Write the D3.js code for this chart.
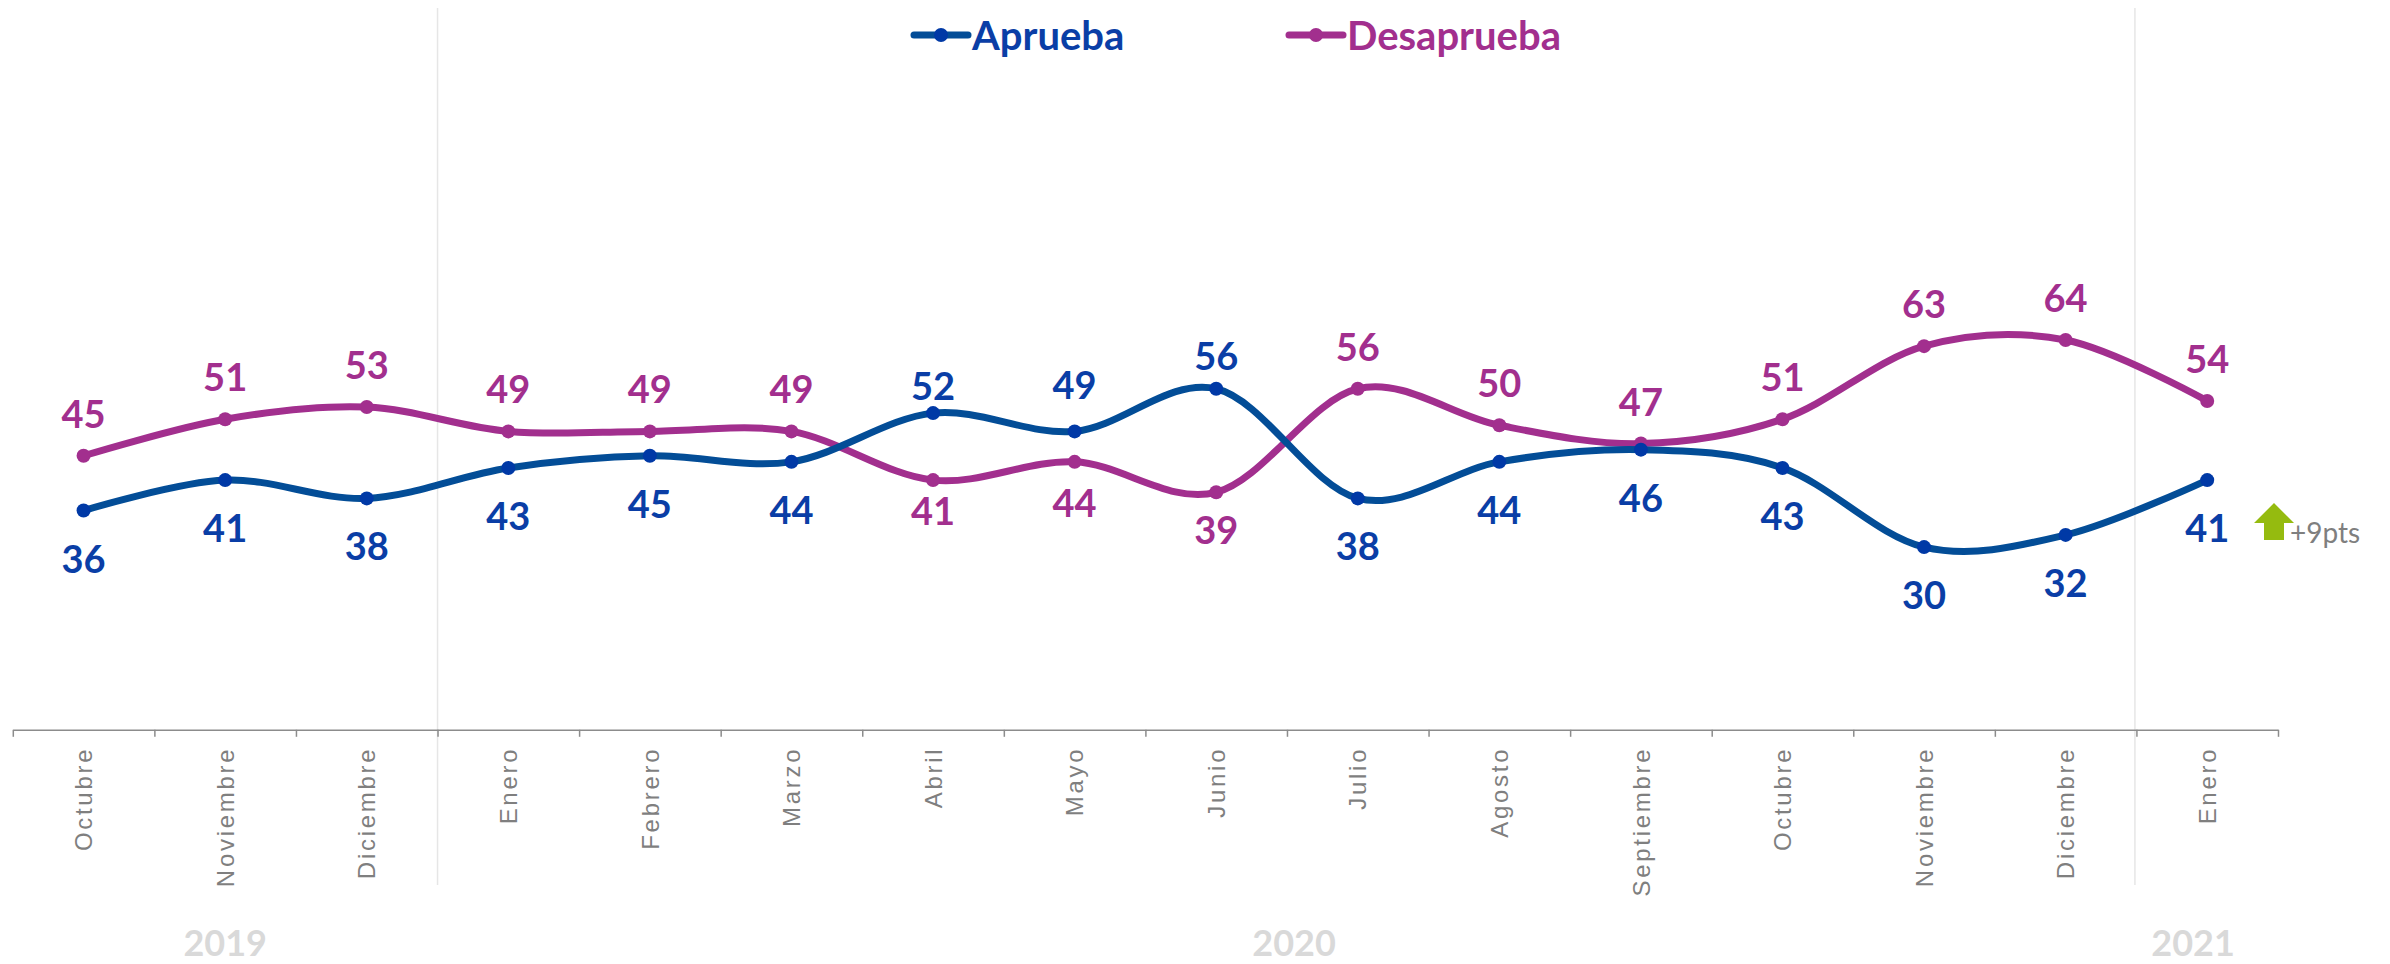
<!DOCTYPE html>
<html>
<head>
	<title>Aprueba / Desaprueba</title>
	<script type="text/javascript" src="https://d3js.org/d3.v7.min.js"></script>
	<style type="text/css">
		body { margin: 0; background: white; }
		svg { display: block; font-family: Lato, sans-serif; }
		.axis path, .axis line { fill: none; stroke: #8c8c8c; stroke-width: 1.5; }
		.months text { font-size: 24px; fill: #7f7f7f; letter-spacing: 2.7px; }
		.months path, .months line { display: none; }
		.value { font-size: 38px; font-weight: bold; text-anchor: middle; dominant-baseline: central; }
		.legend { font-size: 40px; font-weight: bold; dominant-baseline: central; }
		.year { font-size: 36px; font-weight: bold; fill: #d9d9d9; text-anchor: middle; dominant-baseline: central; }
	</style>
</head>
<body>
	<script type="text/javascript">
		var months = ["Octubre","Noviembre","Diciembre","Enero","Febrero","Marzo","Abril","Mayo","Junio","Julio","Agosto","Septiembre","Octubre","Noviembre","Diciembre","Enero"];
		var aprueba = [36,41,38,43,45,44,52,49,56,38,44,46,43,30,32,41];
		var desaprueba = [45,51,53,49,49,49,41,44,39,56,50,47,51,63,64,54];
		var years = [["2019",1],["2020",8.55],["2021",14.9]];
		var yearLines = [3,15];

		// labels that do not sit at the default distance from the line
		var aprOffset = {6:-28, 8:-34};
		var desOffset = {6:30, 7:40, 8:37};

		var width = 2390, height = 964;
		var blueLine = "#034d97", blueDot = "#0039a6", blueText = "#0a3ea6";
		var pinkLine = "#a22f8e", pinkDot = "#a22f8e", pinkText = "#a22f8e";

		var svg = d3.select("body").append("svg")
			.attr("width", width)
			.attr("height", height);

		var xEdge = d3.scaleLinear().domain([0, months.length]).range([12.8, 2278]);
		var xBand = d3.scaleBand().domain(d3.range(months.length)).range([12.8, 2278]);
		var yScale = d3.scaleLinear().domain([0, 100]).range([729.8, 120.8]);

		function xMid(i) { return xBand(i) + xBand.bandwidth() / 2; }

		// year separators
		svg.selectAll(".sep").data(yearLines).enter().append("line")
			.attr("class", "sep")
			.attr("x1", function(d){ return xEdge(d) - (d == 15 ? 1.5 : 0); })
			.attr("x2", function(d){ return xEdge(d) - (d == 15 ? 1.5 : 0); })
			.attr("y1", 8)
			.attr("y2", 885)
			.style("stroke", "#e6e6e6")
			.style("stroke-width", 1.5);

		svg.append("g")
			.attr("class", "axis")
			.attr("transform", "translate(0," + yScale(0) + ")")
			.call(d3.axisBottom(xEdge).tickValues(d3.range(months.length + 1)).tickSize(7).tickSizeOuter(0).tickFormat(""));

		var monthAxis = d3.axisBottom(xBand).tickSize(0).tickFormat(function(d){ return months[d]; });
		svg.append("g")
			.attr("class", "months")
			.attr("transform", "translate(0," + yScale(0) + ")")
			.call(monthAxis)
			.selectAll("text")
			.attr("transform", "rotate(-90)")
			.attr("text-anchor", "end")
			.attr("x", -17)
			.attr("y", 0)
			.attr("dx", 0)
			.attr("dy", "0.36em");

		var line = d3.line()
			.x(function(d, i){ return xMid(i); })
			.y(function(d){ return yScale(d); })
			.curve(d3.curveCardinal.tension(0));

		function drawSeries(values, other, lineColor, dotColor, textColor, offsets, below, above) {
			svg.append("path")
				.datum(values)
				.attr("d", line)
				.style("fill", "none")
				.style("stroke", lineColor)
				.style("stroke-width", 7)
				.style("stroke-linecap", "round");

			svg.append("g").selectAll("circle").data(values).enter().append("circle")
				.attr("cx", function(d, i){ return xMid(i); })
				.attr("cy", function(d){ return yScale(d); })
				.attr("r", 7)
				.style("fill", dotColor);

			svg.append("g").selectAll("text").data(values).enter().append("text")
				.attr("class", "value")
				.attr("x", function(d, i){ return xMid(i); })
				.attr("y", function(d, i){
					var off = d > other[i] ? above : below;
					if (offsets[i] !== undefined) off = offsets[i];
					return yScale(d) + off;
				})
				.text(function(d){ return d; })
				.style("fill", textColor);
		}

		drawSeries(desaprueba, aprueba, pinkLine, pinkDot, pinkText, desOffset, 47, -43);
		drawSeries(aprueba, desaprueba, blueLine, blueDot, blueText, aprOffset, 47, -47);

		// legend
		function legendItem(x, label, lineColor, dotColor, textColor) {
			var g = svg.append("g").attr("transform", "translate(" + x + ",35)");
			g.append("line").attr("x1", 0).attr("x2", 54)
				.style("stroke", lineColor).style("stroke-width", 7).style("stroke-linecap", "round");
			g.append("circle").attr("cx", 27).attr("r", 7).style("fill", dotColor);
			g.append("text").attr("class", "legend").attr("x", 58).text(label).style("fill", textColor);
		}
		legendItem(914, "Aprueba", blueLine, blueDot, blueText);
		legendItem(1289, "Desaprueba", pinkLine, pinkDot, pinkText);

		// year labels
		svg.selectAll(".year").data(years).enter().append("text")
			.attr("class", "year")
			.attr("x", function(d){ return xEdge(d[1] + 0.5); })
			.attr("y", 942)
			.text(function(d){ return d[0]; });

		// change marker beside the last point
		var arrow = svg.append("g").attr("transform", "translate(2274,503)");
		arrow.append("path")
			.attr("d", "M0,0L20,20H10V37H-10V20H-20Z")
			.style("fill", "#95bb0f");
		arrow.append("text")
			.attr("x", 16)
			.attr("y", 29)
			.attr("dominant-baseline", "central")
			.style("font-size", "28px")
			.style("fill", "#7f7f7f")
			.text("+9pts");
	</script>
</body>
</html>
